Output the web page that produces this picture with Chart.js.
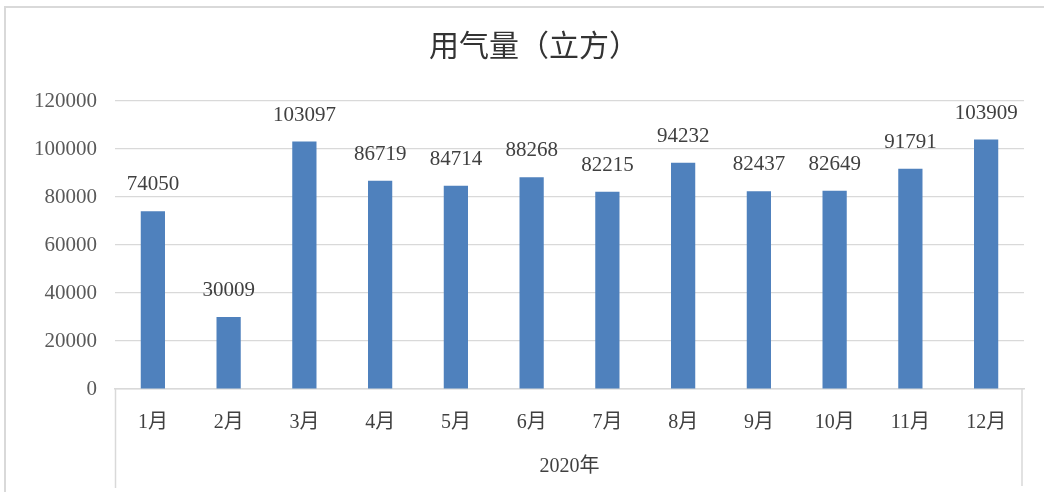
<!DOCTYPE html>
<html><head><meta charset="utf-8">
<script src="https://cdn.jsdelivr.net/npm/chart.js@4/dist/chart.umd.min.js"></script>
<style>
html,body{margin:0;padding:0;background:#fff;overflow:hidden;width:1044px;height:492px;}
#c{position:absolute;left:0;top:0;}
#frame{position:absolute;left:4px;top:6px;width:1100px;height:600px;border:2px solid #d9d9d9;pointer-events:none;}
</style></head>
<body>
<canvas id="c" width="1044" height="492"></canvas>
<div id="frame"></div>
<script>
const categories = ['1月','2月','3月','4月','5月','6月','7月','8月','9月','10月','11月','12月'];
const groupLabel = '2020年';
const titleText = '用气量（立方）';
const gasVolume = [74050, 30009, 103097, 86719, 84714, 88268, 82215, 94232, 82437, 82649, 91791, 103909];
const yTicks = [0, 20000, 40000, 60000, 80000, 100000, 120000];

const serif = '"Liberation Serif", "Noto Sans CJK SC", serif';

const labelPlugin = {
  id: 'valueLabels',
  afterDatasetsDraw(chart) {
    const ctx = chart.ctx;
    const meta = chart.getDatasetMeta(0);
    ctx.save();
    ctx.font = '21px ' + serif;
    ctx.fillStyle = '#404040';
    ctx.textAlign = 'center';
    ctx.textBaseline = 'alphabetic';
    meta.data.forEach((bar, i) => {
      ctx.fillText(String(chart.data.datasets[0].data[i]), bar.x, bar.y - 21);
    });
    ctx.restore();
  }
};

const boxPlugin = {
  id: 'catBox',
  afterLayout(chart) {
    if (chart.titleBlock) {
      chart.titleBlock.left += 22;
      chart.titleBlock.right += 22;
    }
  },
  afterDraw(chart) {
    const {ctx, chartArea} = chart;
    ctx.save();
    ctx.strokeStyle = '#d9d9d9';
    ctx.lineWidth = 1.5;
    ctx.beginPath();
    ctx.moveTo(chartArea.left + 0.5, chartArea.bottom);
    ctx.lineTo(chartArea.left + 0.5, 488);
    ctx.moveTo(chartArea.right - 2, chartArea.bottom);
    ctx.lineTo(chartArea.right - 2, 486);
    ctx.stroke();
    ctx.restore();
  }
};

new Chart(document.getElementById('c'), {
  type: 'bar',
  data: {
    labels: categories,
    datasets: [{
      data: gasVolume,
      backgroundColor: '#4f81bd',
      borderWidth: 0,
      barPercentage: 0.32,
      categoryPercentage: 1.0
    }]
  },
  options: {
    responsive: false,
    animation: false,
    devicePixelRatio: 1,
    layout: { padding: { top: 10, right: 20, left: 0, bottom: 0 } },
    plugins: {
      legend: { display: false },
      tooltip: { enabled: false },
      title: {
        display: true,
        text: titleText,
        color: '#333333',
        font: { family: '"Noto Sans CJK SC", sans-serif', size: 30, weight: 'normal' },
        padding: { top: 17, bottom: 38 }
      }
    },
    scales: {
      y: {
        min: 0, max: 120000,
        afterBuildTicks(scale) { scale.ticks = yTicks.map(v => ({ value: v })); },
        afterFit(scale) { scale.width = 115; },
        grid: { color: '#d9d9d9', lineWidth: 1.2, drawTicks: false },
        border: { display: false },
        ticks: {
          padding: 18,
          color: '#595959',
          font: { family: serif, size: 21 },
          callback: (v) => String(v)
        }
      },
      x: {
        afterFit(scale) { scale.height = 103; },
        grid: { display: false, drawTicks: false },
        border: { display: true, color: '#d9d9d9', width: 1.5 },
        ticks: {
          padding: 22,
          color: '#404040',
          font: { family: serif, size: 20 },
          maxRotation: 0, autoSkip: false
        },
        title: {
          display: true,
          text: groupLabel,
          color: '#404040',
          font: { family: serif, size: 20 },
          padding: { top: 0, bottom: 13 }
        }
      }
    }
  },
  plugins: [labelPlugin, boxPlugin]
});
</script>
</body></html>
